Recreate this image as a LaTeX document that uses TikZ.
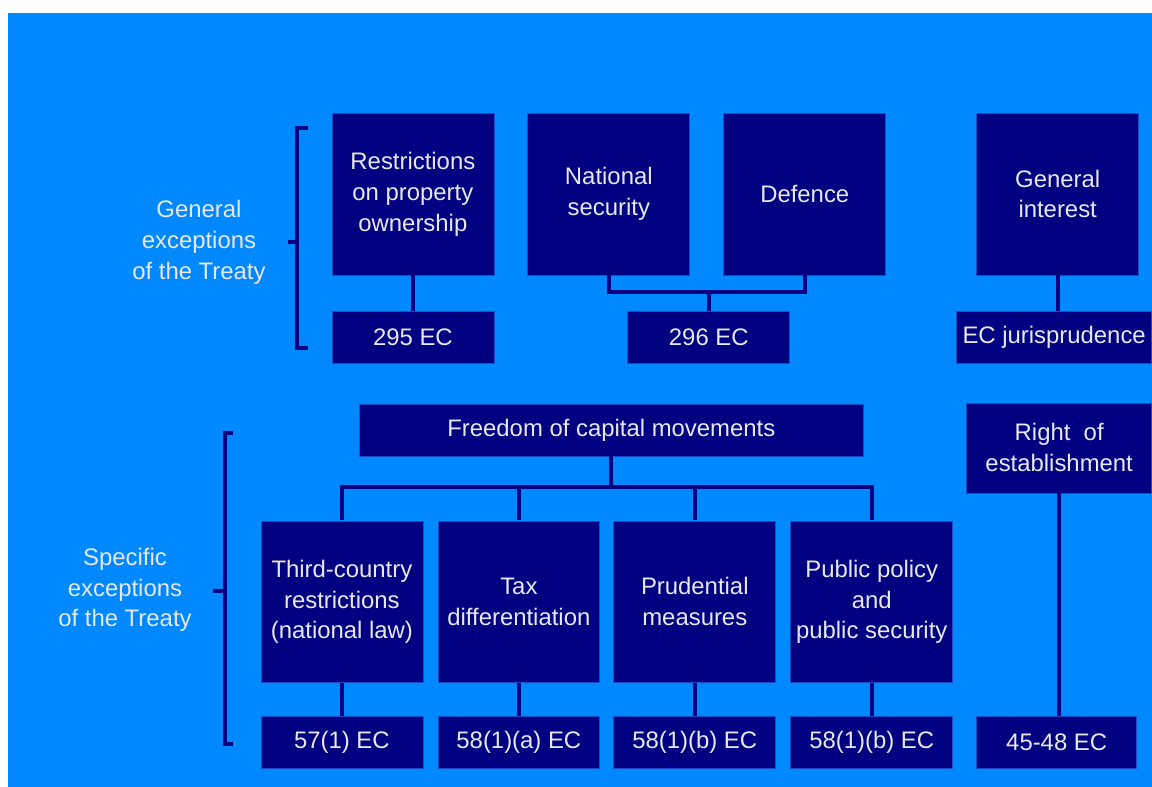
\documentclass[tikz,border=0pt]{standalone}
\usepackage{fontspec}
\setmainfont{Liberation Sans}
\usetikzlibrary{positioning,calc}
\definecolor{ecSky}{HTML}{0088FF}
\definecolor{ecNavy}{HTML}{000080}
\definecolor{ecEdge}{HTML}{1A4CC8}
\definecolor{ecText}{HTML}{E8E8F0}
\tikzset{
  box/.style={draw=ecEdge, line width=0.5pt, fill=ecNavy, text=ecText,
              align=center, inner sep=2pt, minimum width=4.05cm, minimum height=4.05cm,
              font=\fontsize{17}{22}\selectfont},
  ref/.style={box, minimum height=1.3cm},
  lbl/.style={align=center, text=ecText, font=\fontsize{17}{22}\selectfont},
  link/.style={draw=ecNavy, line width=2.6pt},
  brk/.style={draw=ecNavy, line width=2.6pt},
}

\begin{document}
\begin{tikzpicture}
        \fill[white](0,0) rectangle (28.8,-19.675);
        \fill[ecSky](0.2,-0.325) rectangle (28.8,-19.675);
        % general exceptions
        \node[lbl] (gen) at (4.975,-6.05){General\\exceptions\\of the Treaty};
        \node[box] (restr) at (10.325,-4.85){Restrictions\\on property\\ownership};
        \node[box] (natsec) at (15.225,-4.85){National\\security};
        \node[box] (defence) at (20.125,-4.85){Defence};
        \node[box] (genint) at (26.45,-4.85){General\\interest};
        \node[ref] (a295) at (10.325,-8.4375){295 EC};
        \node[ref] (a296) at (17.725,-8.4375){296 EC};
        \node[ref,minimum width=4.875cm] (ecjur) at (26.3625,-8.4375){EC jurisprudence};
        % specific exceptions
        \node[lbl] (spec) at (3.125,-14.75){Specific\\exceptions\\of the Treaty};
        \node[ref,minimum width=12.625cm] (freedom) at (15.2875,-10.75){Freedom of capital movements};
        \node[box,minimum width=4.625cm,minimum height=2.25cm] (rightest) at (26.4875,-11.2){Right\ \ of\\establishment};
        \node[box] (third) at (8.55,-15.05){Third-country\\restrictions\\(national law)};
        \node[box] (tax) at (12.975,-15.05){Tax\\differentiation};
        \node[box] (prud) at (17.375,-15.05){Prudential\\measures};
        \node[box] (pub) at (21.8,-15.05){Public policy\\and\\public security};
        \node[ref] (a571) at (8.55,-18.5625){57(1) EC};
        \node[ref] (a581a) at (12.975,-18.5625){58(1)(a) EC};
        \node[ref] (a581b) at (17.375,-18.5625){58(1)(b) EC};
        \node[ref] (a581c) at (21.8,-18.5625){58(1)(b) EC};
        \node[ref,minimum width=4cm] (a4548) at (26.425,-18.5625){45-48 EC};
        \coordinate (j296) at (17.725,-7.3);
        \coordinate (jfree) at (15.2875,-12.175);
        \draw[link](restr)--(a295);
        \draw[link](natsec.south)|-(j296)-|(defence.south);\draw[link](j296)--(a296);
        \draw[link](genint.south)--(genint.south|-ecjur.north);
        \draw[link](freedom)--(jfree);
        \draw[link](third.north)|-(jfree)-|(pub.north);
        \foreach \b in {tax,prud,third,pub}{\draw[link](\b.north)--(\b.north|-jfree);}
        \foreach \a/\b in {third/a571,tax/a581a,prud/a581b,pub/a581c}{\draw[link](\a)--(\b);}
        \draw[link](rightest.south)--(rightest.south|-a4548.north);
        % brackets
        \draw[brk](7.7,-3.2)--(7.425,-3.2)--(7.425,-8.7)--(7.7,-8.7);\draw[brk](7.425,-6.05)--(7.2,-6.05);
        \draw[brk](5.825,-10.825)--(5.625,-10.825)--(5.625,-18.6)--(5.825,-18.6);\draw[brk](5.625,-14.775)--(5.325,-14.775);
      \end{tikzpicture}
\end{document}
